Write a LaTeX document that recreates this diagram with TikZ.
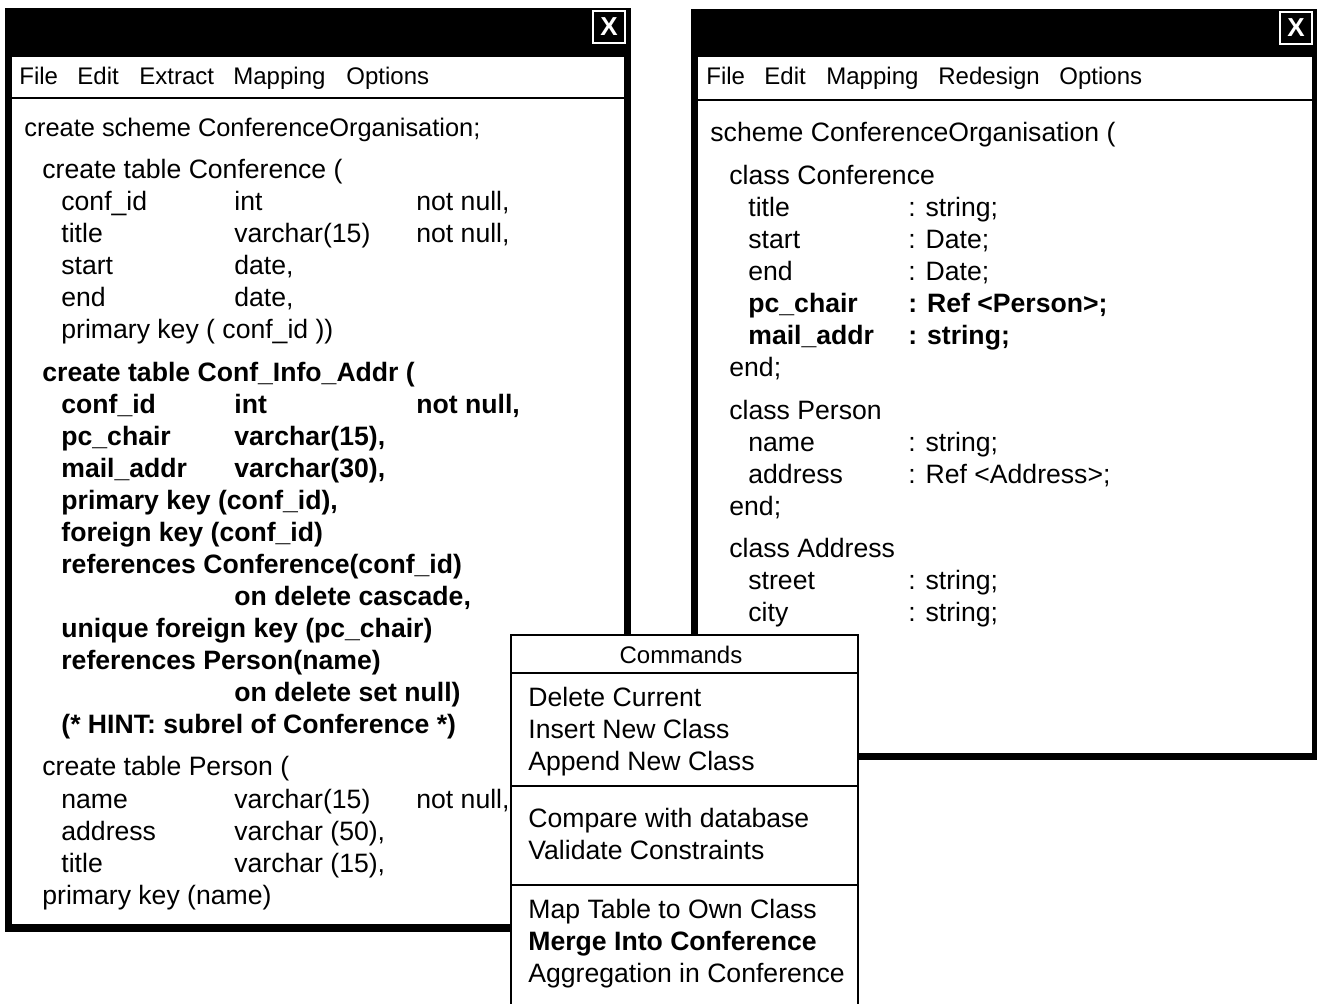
\documentclass[tikz,border=0pt]{standalone}
\usepackage{fontspec}
\setmainfont{Liberation Sans}
\usetikzlibrary{positioning}

% column helpers for the table rows
\newcommand{\tcol}[3]{\makebox[86.5pt][l]{#1}\makebox[91pt][l]{#2}#3}
\newcommand{\ccol}[2]{\makebox[80pt][l]{#1}#2}

\tikzset{
  win/.style={fill=black},
  pane/.style={fill=white},
  sepline/.style={line width=1pt},
  closebox/.style={draw=white,line width=1pt,text=white,minimum width=16pt,minimum height=16pt,inner sep=0pt,font=\fontsize{13}{15}\selectfont\bfseries},
  txt/.style={anchor=base west,inner sep=0pt,font=\fontsize{13.3}{16}\selectfont},
  btxt/.style={anchor=base west,inner sep=0pt,font=\fontsize{13.3}{16}\selectfont\bfseries},
  menu/.style={anchor=base west,inner sep=0pt,font=\fontsize{12}{14}\selectfont},
}

\begin{document}
\begin{tikzpicture}[x=0.5pt,y=-0.5pt]
    \useasboundingbox (0,0) rectangle (1317,1003);

    % left window: relational schema
    \fill[win] (5,8) rectangle (631,932);
    \fill[pane] (12,57) rectangle (624,924);
    \draw[sepline] (12,98) -- (624,98);
    \node[closebox] (closeL) at (609,26.5) {X};
    \node[menu] (fileL) at (19,84) {File};
    \node[menu] (editL) at (77,84) {Edit};
    \node[menu] (extractL) at (139,84) {Extract};
    \node[menu] (mappingL) at (233,84) {Mapping};
    \node[menu] (optionsL) at (346,84) {Options};

    \node[txt,font=\fontsize{12.7}{16}\selectfont] (schemeL) at (24,136) {create scheme ConferenceOrganisation;};
    \node[txt] (confT) at (42,178) {create table Conference (};
    \node[txt] (confA) at (61,210) {\tcol{conf\_id}{int}{not null,}};
    \node[txt] (confB) at (61,242) {\tcol{title}{varchar(15)}{not null,}};
    \node[txt] (confC) at (61,274) {\tcol{start}{date,}{}};
    \node[txt] (confD) at (61,306) {\tcol{end}{date,}{}};
    \node[txt] (confE) at (61,338) {primary key ( conf\_id ))};

    \node[btxt] (infoT) at (42,381) {create table Conf\_Info\_Addr (};
    \node[btxt] (infoA) at (61,413) {\tcol{conf\_id}{int}{not null,}};
    \node[btxt] (infoB) at (61,445) {\tcol{pc\_chair}{varchar(15),}{}};
    \node[btxt] (infoC) at (61,477) {\tcol{mail\_addr}{varchar(30),}{}};
    \node[btxt] (infoD) at (61,509) {primary key (conf\_id),};
    \node[btxt] (infoE) at (61,541) {foreign key (conf\_id)};
    \node[btxt] (infoF) at (61,573) {references Conference(conf\_id)};
    \node[btxt] (infoG) at (234,605) {on delete cascade,};
    \node[btxt] (infoH) at (61,637) {unique foreign key (pc\_chair)};
    \node[btxt] (infoI) at (61,669) {references Person(name)};
    \node[btxt] (infoJ) at (234,701) {on delete set null)};
    \node[btxt] (infoK) at (61,733) {(* HINT: subrel of Conference *)};

    \node[txt] (persT) at (42,775) {create table Person (};
    \node[txt] (persA) at (61,808) {\tcol{name}{varchar(15)}{not null,}};
    \node[txt] (persB) at (61,840) {\tcol{address}{varchar (50),}{}};
    \node[txt] (persC) at (61,872) {\tcol{title}{varchar (15),}{}};
    \node[txt] (persD) at (42,904) {primary key (name)};

    % right window: object schema
    \fill[win] (691,9) rectangle (1322,760);
    \fill[pane] (698,57) rectangle (1312,753);
    \draw[sepline] (698,100) -- (1312,100);
    \node[closebox] (closeR) at (1296,27.5) {X};
    \node[menu] (fileR) at (706,84) {File};
    \node[menu] (editR) at (764,84) {Edit};
    \node[menu] (mappingR) at (826,84) {Mapping};
    \node[menu] (redesignR) at (938,84) {Redesign};
    \node[menu] (optionsR) at (1059,84) {Options};

    \node[txt] (schemeR) at (710,141) {scheme ConferenceOrganisation (};
    \node[txt] (clsConf) at (729,184) {class Conference};
    \node[txt] (clsConfA) at (748,216) {\ccol{title}{: string;}};
    \node[txt] (clsConfB) at (748,248) {\ccol{start}{: Date;}};
    \node[txt] (clsConfC) at (748,280) {\ccol{end}{: Date;}};
    \node[btxt] (clsConfD) at (748,312) {\ccol{pc\_chair}{: Ref <Person>;}};
    \node[btxt] (clsConfE) at (748,344) {\ccol{mail\_addr}{: string;}};
    \node[txt] (clsConfEnd) at (729,376) {end;};
    \node[txt] (clsPers) at (729,419) {class Person};
    \node[txt] (clsPersA) at (748,451) {\ccol{name}{: string;}};
    \node[txt] (clsPersB) at (748,483) {\ccol{address}{: Ref <Address>;}};
    \node[txt] (clsPersEnd) at (729,515) {end;};
    \node[txt] (clsAddr) at (729,557) {class Address};
    \node[txt] (clsAddrA) at (748,589) {\ccol{street}{: string;}};
    \node[txt] (clsAddrB) at (748,621) {\ccol{city}{: string;}};

    % commands popup
    \fill[white] (511,635) rectangle (858,1010);
    \draw[line width=1.3pt] (511,1010) -- (511,635) -- (858,635) -- (858,1010);
    \draw[sepline] (511,673) -- (858,673);
    \draw[sepline] (511,786) -- (858,786);
    \draw[sepline] (511,885) -- (858,885);
    \node[menu,anchor=base] (cmdHead) at (681,663) {Commands};
    \node[txt] (cmdA) at (528,706) {Delete Current};
    \node[txt] (cmdB) at (528,738) {Insert New Class};
    \node[txt] (cmdC) at (528,770) {Append New Class};
    \node[txt] (cmdD) at (528,827) {Compare with database};
    \node[txt] (cmdE) at (528,859) {Validate Constraints};
    \node[txt] (cmdF) at (528,918) {Map Table to Own Class};
    \node[btxt] (cmdG) at (528,950) {Merge Into Conference};
    \node[txt] (cmdH) at (528,982) {Aggregation in Conference};
\end{tikzpicture}
\end{document}
